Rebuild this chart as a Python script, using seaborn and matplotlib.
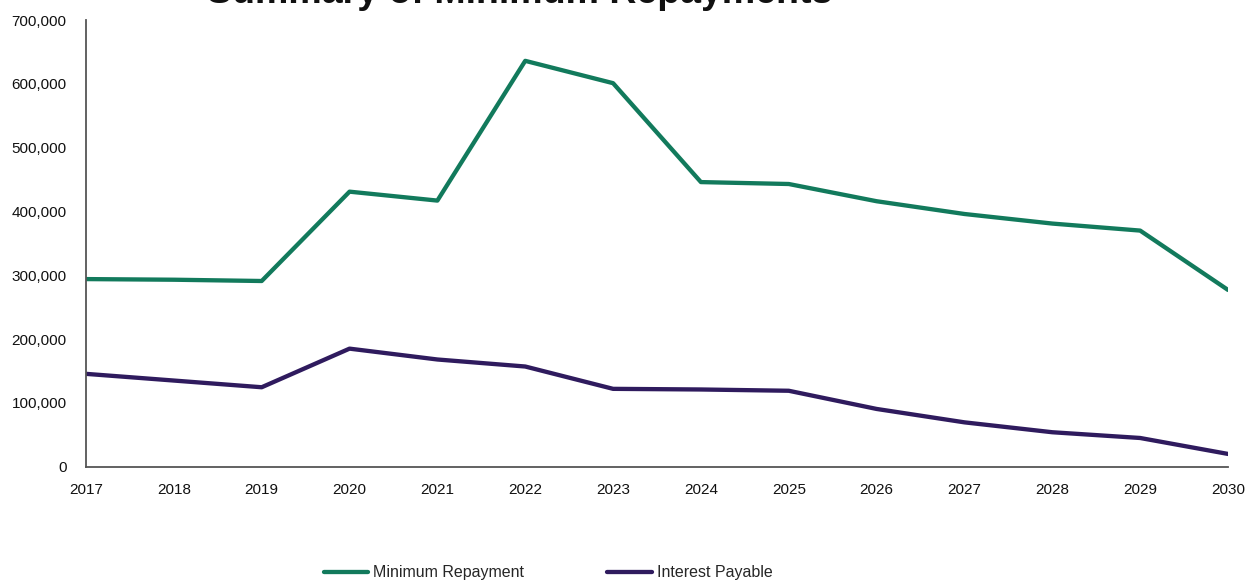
import matplotlib
matplotlib.use("Agg")
import matplotlib.pyplot as plt
import seaborn as sns
import pandas as pd
from matplotlib.ticker import FuncFormatter, MultipleLocator

years = [2017, 2018, 2019, 2020, 2021, 2022, 2023, 2024, 2025, 2026, 2027, 2028, 2029, 2030]
minimum_repayment = [294000, 293000, 291000, 431000, 417000, 636000, 601000, 446000, 443000,
                     416000, 396000, 381000, 370000, 277000]
interest_payable = [145500, 135000, 124500, 185000, 168000, 157000, 122000, 121000, 119000,
                    90500, 69500, 54000, 45000, 20000]
series_names = ["Minimum Repayment", "Interest Payable"]
title = "Summary of Minimum Repayments"

df = pd.DataFrame({
    "Year": years * 2,
    "Value": minimum_repayment + interest_payable,
    "Series": [series_names[0]] * len(years) + [series_names[1]] * len(years),
})

sns.set_style("white")
plt.rcParams["font.family"] = ["Liberation Sans", "DejaVu Sans"]

fig = plt.figure(figsize=(12.54, 5.85), dpi=100)
ax = fig.add_axes([86 / 1254, 1 - 466.7 / 585, (1228 - 86) / 1254, (466.7 - 20) / 585])

palette = {series_names[0]: "#127a5c", series_names[1]: "#2f1b5e"}
sns.lineplot(data=df, x="Year", y="Value", hue="Series", palette=palette,
             linewidth=3.1, ax=ax, legend=True)

ax.set_xlim(years[0], years[-1])
ax.set_ylim(0, 700000)
ax.set_xticks(years)
ax.yaxis.set_major_locator(MultipleLocator(100000))
ax.yaxis.set_major_formatter(FuncFormatter(lambda v, p: f"{int(v):,}"))
ax.set_xlabel("")
ax.set_ylabel("")

for s in ["top", "right"]:
    ax.spines[s].set_visible(False)
for s in ["left", "bottom"]:
    ax.spines[s].set_color("#555555")
    ax.spines[s].set_linewidth(1.3)
ax.tick_params(axis="both", direction="out", length=5, width=1.2, color="#555555",
               labelsize=11, labelcolor="#111111")
ax.tick_params(axis="x", pad=7)
ax.tick_params(axis="y", pad=9)

handles, labels = ax.get_legend_handles_labels()
ax.get_legend().remove()
fig.legend(handles, labels, loc="center", bbox_to_anchor=(548 / 1254, 1 - 573 / 585),
           ncol=2, frameon=False, fontsize=11.5, handlelength=2.8, handletextpad=0.3,
           columnspacing=5.2)

fig.text(520 / 1254, 1 - 3 / 585, title, ha="center", va="baseline",
         fontsize=27, fontweight="bold", color="#111111")

fig.savefig("out.png", dpi=100)
